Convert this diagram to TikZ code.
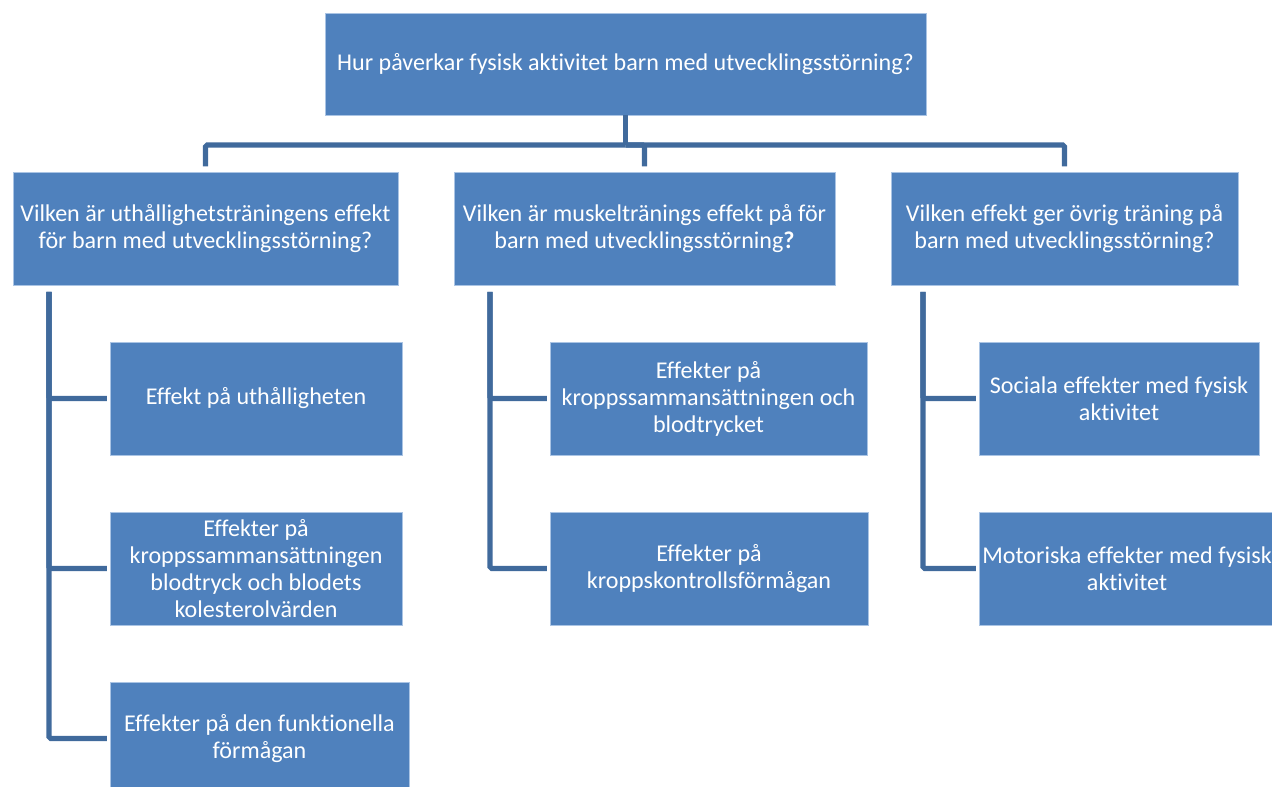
\documentclass[tikz,border=0pt]{standalone}
\usepackage{fontspec}
\setmainfont{Carlito}[Ligatures=NoCommon]
\usetikzlibrary{calc}

\definecolor{boxblue}{RGB}{79,129,189}
\definecolor{boxedge}{RGB}{170,196,228}
\definecolor{linkblue}{RGB}{64,106,156}

\begin{document}
\begin{tikzpicture}[x=0.02cm,y=-0.02cm,
  qbox/.style={fill=boxblue,draw=boxedge,line width=0.5pt,text=white,
    align=center,inner sep=0pt,minimum height=2.26cm,
    font=\fontsize{13.7}{15.4}\selectfont},
  conn/.style={draw=linkblue,line width=3pt,rounded corners=1pt}]

\clip (0,0) rectangle (1272,787);

% main question
\node[qbox,minimum width=12.02cm,minimum height=2.04cm] (top) at (625.5,64)
  {Hur påverkar fysisk aktivitet barn med utvecklingsstörning?};

% sub questions
\node[qbox,minimum width=7.7cm] (qa) at (205.5,228.5)
  {Vilken är uthållighetsträningens effekt\\för barn med utvecklingsstörning?};
\node[qbox,minimum width=7.62cm] (qb) at (644.5,228.5)
  {Vilken är muskeltränings effekt på för\\barn med utvecklingsstörning\textbf{?}};
\node[qbox,minimum width=6.94cm] (qc) at (1064.5,228.5)
  {Vilken effekt ger övrig träning på\\barn med utvecklingsstörning?};

% effects
\node[qbox,minimum width=5.84cm] (a1) at (256,398.5) {Effekt på uthålligheten};
\node[qbox,minimum width=5.84cm] (a2) at (256,568.5)
  {Effekter på\\kroppssammansättningen\\blodtryck och blodets\\kolesterolvärden};
\node[qbox,minimum width=5.98cm] (a3) at (259.5,738.5)
  {Effekter på den funktionella\\förmågan};

\node[qbox,minimum width=6.34cm] (b1) at (708.5,398.5)
  {Effekter på\\kroppssammansättningen och\\blodtrycket};
\node[qbox,minimum width=6.36cm] (b2) at (709,568.5)
  {Effekter på\\kroppskontrollsförmågan};

\node[qbox,minimum width=5.6cm] (c1) at (1119,398.5)
  {Sociala effekter med fysisk\\aktivitet};
\node[qbox,minimum width=5.92cm] (c2) at (1127,568.5)
  {Motoriska effekter med fysisk\\aktivitet};

\coordinate (bus) at (625.5,145);
\coordinate (ta) at (49,292);
\coordinate (tb) at (490,292);
\coordinate (tc) at (923,292);

\draw[conn] (top.south) -- (bus);
\draw[conn,shorten >=3pt] (bus) -| (qa.north);
\draw[conn,shorten >=3pt] (bus) -| (qb.north);
\draw[conn,shorten >=3pt] (bus) -| (qc.north);

\draw[conn,shorten >=1.5pt] (ta) |- (a1.west);
\draw[conn,shorten >=1.5pt] (ta) |- (a2.west);
\draw[conn,shorten >=1.5pt] (ta) |- (a3.west);

\draw[conn,shorten >=1.5pt] (tb) |- (b1.west);
\draw[conn,shorten >=1.5pt] (tb) |- (b2.west);

\draw[conn,shorten >=1.5pt] (tc) |- (c1.west);
\draw[conn,shorten >=1.5pt] (tc) |- (c2.west);

\end{tikzpicture}
\end{document}
